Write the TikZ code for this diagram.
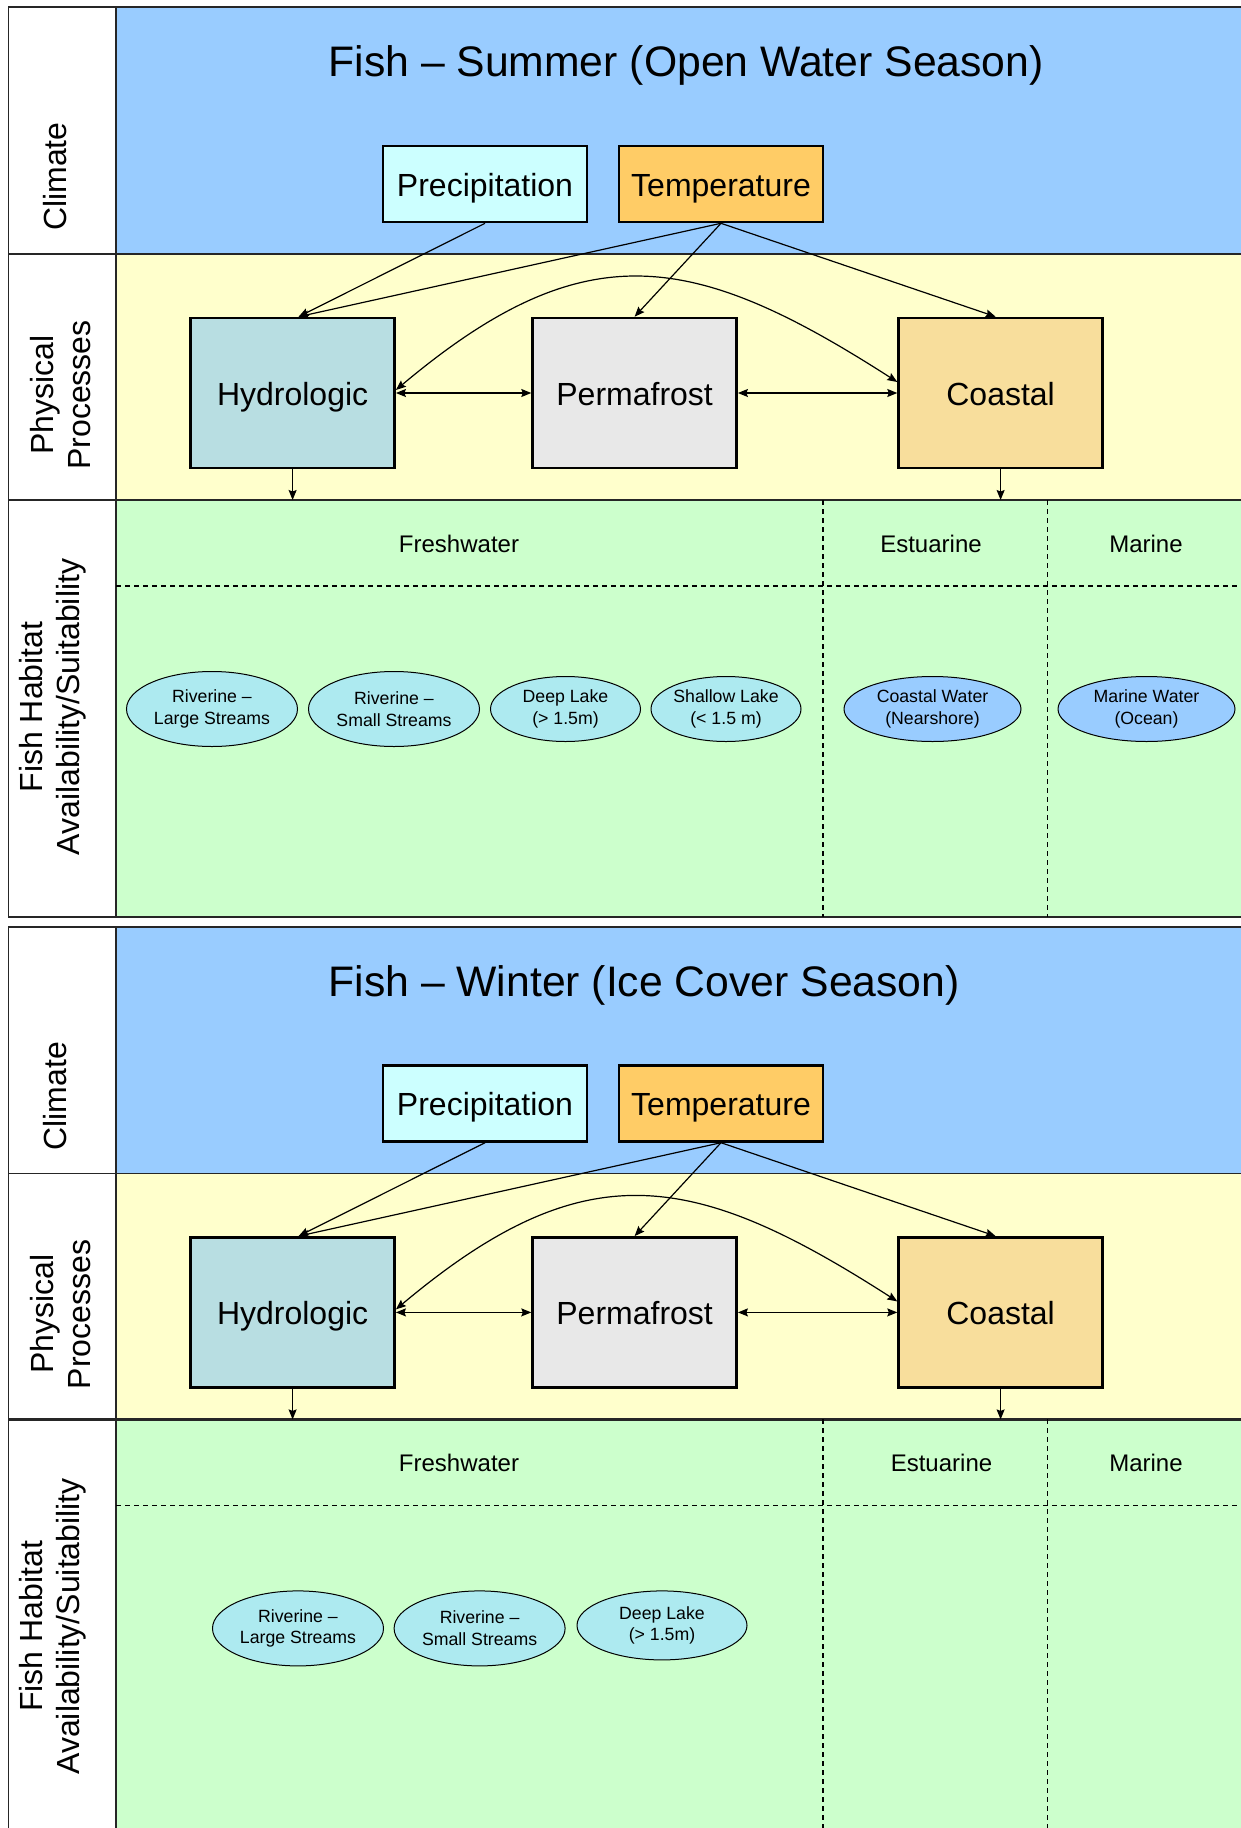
\documentclass[tikz,border=0pt]{standalone}
\usepackage{fontspec}
\setmainfont{Liberation Sans}
\usetikzlibrary{positioning,shapes.geometric,arrows.meta}

\definecolor{climcol}{HTML}{99CCFF}
\definecolor{physcol}{HTML}{FFFFCC}
\definecolor{habcol}{HTML}{CCFFCC}
\definecolor{precol}{HTML}{CCFFFF}
\definecolor{tempcol}{HTML}{FFCC66}
\definecolor{hydrocol}{HTML}{B8DEE2}
\definecolor{permcol}{HTML}{E8E8E8}
\definecolor{coastcol}{HTML}{F8DE9C}
\definecolor{freshcol}{HTML}{ADEAF0}
\definecolor{seacol}{HTML}{99CCFF}

\begin{document}
\begin{tikzpicture}[x=1pt,y=-1pt,
	band/.style={draw=black!85,line width=1.7pt},
	cbox/.style={draw=black,line width=2.6pt,minimum width=204pt,minimum height=76pt,text height=31pt,text depth=6pt,font=\fontsize{32}{37}\selectfont},
	pbox/.style={draw=black,line width=2.6pt,minimum width=204pt,minimum height=150pt,text height=31pt,text depth=6pt,font=\fontsize{32}{37}\selectfont},
	hab/.style={ellipse,draw=black,line width=1pt,inner sep=0pt,align=center,font=\fontsize{17.7}{21.6}\selectfont},
	side/.style={rotate=90,align=center,font=\fontsize{32}{37}\selectfont},
	title/.style={anchor=base west,font=\fontsize{42.7}{50}\selectfont},
	zone/.style={anchor=base,font=\fontsize{24}{28}\selectfont},
	arr/.style={-{Stealth[length=10pt,width=8pt,inset=1.5pt]},line width=1.2pt},
	dbl/.style={{Stealth[length=10pt,width=8pt,inset=1.5pt]}-{Stealth[length=10pt,width=8pt,inset=1.5pt]},line width=1.2pt},
	sep/.style={dash pattern=on 5pt off 4pt,line width=1.1pt}]
	\useasboundingbox (0,0) rectangle (1240,1828);

	% summer
	\fill[climcol] (116,7.3) rectangle (1242,254);
	\fill[physcol] (116,254) rectangle (1242,500);
	\fill[habcol] (116,500) rectangle (1242,917.3);
	\draw[band] (1242,7.3) -- (8.5,7.3) -- (8.5,917.3) -- (1242,917.3);
	\draw[band] (8.5,254) -- (1242,254);
	\draw[band,line width=2.4pt] (8.5,500) -- (1242,500);
	\draw[band] (116,7.3) -- (116,917.3);
	\draw[sep] (116,586) -- (1242,586);
	\draw[sep] (823,500) -- (823,917.3);
	\draw[sep] (1047.4,500) -- (1047.4,917.3);

	\node[side] (sclim) at (55,176.7) {Climate};
	\node[side] (sphys) at (61,395) {Physical\\Processes};
	\node[side] (shab) at (52.5,707) {Fish Habitat\\Availability/Suitability};
	\node[title] (stitle) at (325,77) {Fish – Summer (Open Water Season)};

	\node[cbox,fill=precol] (sprec) at (485,184) {Precipitation};
	\node[cbox,fill=tempcol] (stemp) [right = 29.4pt of sprec] {Temperature};
	\node[pbox,fill=hydrocol] (shydro) at (292.6,393) {Hydrologic};
	\node[pbox,fill=permcol] (sperm) [right = 135.4pt of shydro] {Permafrost};
	\node[pbox,fill=coastcol] (scoast) [right = 159.4pt of sperm] {Coastal};

	\node[zone] (sfresh) at (459,552) {Freshwater};
	\node[zone] (sestu) at (931,552) {Estuarine};
	\node[zone] (smar) at (1146,552) {Marine};

	\node[hab,fill=freshcol,minimum width=171pt,minimum height=75pt] (slarge) at (212,709) {Riverine –\\Large Streams};
	\node[hab,fill=freshcol,minimum width=171pt,minimum height=75pt] (ssmall) at (394,709) {Riverine –\\Small Streams};
	\node[hab,fill=freshcol,minimum width=150pt,minimum height=65pt] (sdeep) at (565.5,709) {Deep Lake\\(> 1.5m)};
	\node[hab,fill=freshcol,minimum width=150pt,minimum height=65pt] (sshallow) at (726,709) {Shallow Lake\\(< 1.5 m)};
	\node[hab,fill=seacol,minimum width=177pt,minimum height=65pt] (snear) at (932.5,709) {Coastal Water\\(Nearshore)};
	\node[hab,fill=seacol,minimum width=177pt,minimum height=65pt] (socean) at (1146.5,709) {Marine Water\\(Ocean)};

	\coordinate (shabtop) at (116,500);
	\draw[arr] (sprec.south) -- ([xshift=6pt]shydro.north);
	\draw[arr] (stemp.south) -- ([xshift=6pt]shydro.north);
	\draw[arr] (stemp.south) -- (sperm.north);
	\draw[arr] (stemp.south) -- ([xshift=-5pt]scoast.north);
	\draw[dbl] (shydro.east) -- (sperm.west);
	\draw[dbl] (sperm.east) -- (scoast.west);
	\draw[dbl] ([yshift=3pt]shydro.east) .. controls (584,232) and (692,250) .. ([yshift=11pt]scoast.west);
	\draw[arr] (shydro.south) -- (shydro.south |- shabtop);
	\draw[arr] (scoast.south) -- (scoast.south |- shabtop);

	% winter
	\begin{scope}[shift={(0,919.4)}]
	\fill[climcol] (116,7.3) rectangle (1242,254);
	\fill[physcol] (116,254) rectangle (1242,500);
	\fill[habcol] (116,500) rectangle (1242,917.3);
	\draw[band] (1242,7.3) -- (8.5,7.3) -- (8.5,917.3) -- (1242,917.3);
	\draw[band] (8.5,254) -- (1242,254);
	\draw[band,line width=2.4pt] (8.5,500) -- (1242,500);
	\draw[band] (116,7.3) -- (116,917.3);
	\draw[sep] (116,586) -- (1242,586);
	\draw[sep] (823,500) -- (823,917.3);
	\draw[sep] (1047.4,500) -- (1047.4,917.3);

	\node[side] (wclim) at (55,176.7) {Climate};
	\node[side] (wphys) at (61,395) {Physical\\Processes};
	\node[side] (whab) at (52.5,707) {Fish Habitat\\Availability/Suitability};
	\node[title] (wtitle) at (325,77) {Fish – Winter (Ice Cover Season)};

	\node[cbox,fill=precol] (wprec) at (485,184) {Precipitation};
	\node[cbox,fill=tempcol] (wtemp) [right = 29.4pt of wprec] {Temperature};
	\node[pbox,fill=hydrocol] (whydro) at (292.6,393) {Hydrologic};
	\node[pbox,fill=permcol] (wperm) [right = 135.4pt of whydro] {Permafrost};
	\node[pbox,fill=coastcol] (wcoast) [right = 159.4pt of wperm] {Coastal};

	\node[zone] (wfresh) at (459,552) {Freshwater};
	\node[zone] (westu) at (941.5,552) {Estuarine};
	\node[zone] (wmar) at (1146,552) {Marine};

	\node[hab,fill=freshcol,minimum width=171pt,minimum height=75pt] (wlarge) at (298,709) {Riverine –\\Large Streams};
	\node[hab,fill=freshcol,minimum width=171pt,minimum height=75pt] (wsmall) at (479.6,709) {Riverine –\\Small Streams};
	\node[hab,fill=freshcol,minimum width=170pt,minimum height=69pt] (wdeep) at (662,706) {Deep Lake\\(> 1.5m)};

	\coordinate (whabtop) at (116,500);
	\draw[arr] (wprec.south) -- ([xshift=6pt]whydro.north);
	\draw[arr] (wtemp.south) -- ([xshift=6pt]whydro.north);
	\draw[arr] (wtemp.south) -- (wperm.north);
	\draw[arr] (wtemp.south) -- ([xshift=-5pt]wcoast.north);
	\draw[dbl] (whydro.east) -- (wperm.west);
	\draw[dbl] (wperm.east) -- (wcoast.west);
	\draw[dbl] ([yshift=3pt]whydro.east) .. controls (584,232) and (692,250) .. ([yshift=11pt]wcoast.west);
	\draw[arr] (whydro.south) -- (whydro.south |- whabtop);
	\draw[arr] (wcoast.south) -- (wcoast.south |- whabtop);
	\end{scope}
\end{tikzpicture}
\end{document}
